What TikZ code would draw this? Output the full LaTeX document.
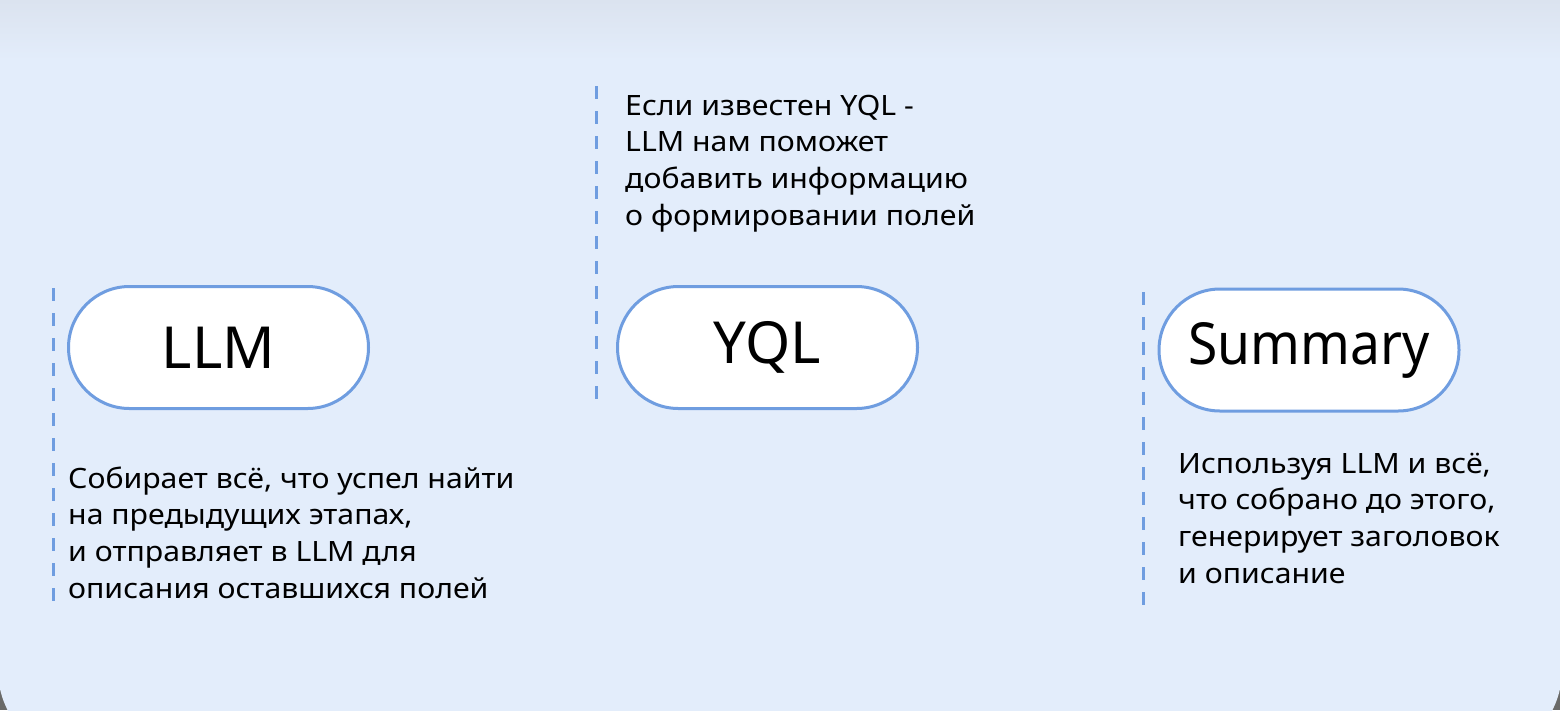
\documentclass[tikz,border=0pt]{standalone}
\usepackage{fontspec}
\setmainfont{Noto Sans}
\definecolor{bgblue}{HTML}{E3EDFB}
\definecolor{shadowc}{HTML}{DBE3EF}
\definecolor{outerc}{HTML}{6A6A68}
\definecolor{pillblue}{HTML}{6F9DE0}
\definecolor{dashblue}{HTML}{6F9DE0}
\begin{document}
\begin{tikzpicture}[x=1pt,y=-1pt,
  pill/.style={draw=pillblue, line width=3pt, fill=white, rounded corners=61pt,
    minimum width=300pt, minimum height=122pt, inner sep=0pt,
    font=\fontsize{58}{70}\selectfont},
  dashline/.style={draw=dashblue, line width=3pt, dash pattern=on 13pt off 12pt},
  txt/.style={anchor=base west, inner sep=0pt,
    font=\fontsize{28}{36.8}\selectfont\addfontfeatures{FakeStretch=1.08}}
]
\useasboundingbox (0,0) rectangle (1560,710);
\fill[outerc] (0,0) rectangle (1560,710);
\fill[bgblue, rounded corners=88pt] (-2,-120) rectangle (1562,758);
\shade[top color=shadowc, bottom color=bgblue] (0,0) rectangle (1560,60);

\coordinate (d1a) at (53,288); \coordinate (d1b) at (53,601);
\coordinate (d2a) at (596,86); \coordinate (d2b) at (596,399);
\coordinate (d3a) at (1143,292); \coordinate (d3b) at (1143,605);
\draw[dashline] (d1a) -- (d1b);
\draw[dashline] (d2a) -- (d2b);
\draw[dashline] (d3a) -- (d3b);

\node[pill] (llm) at (218.5,347.5) {LLM};
\node[pill] (yql) at (767.5,347.5) {YQL};
\node[pill] (sum) at (1309,350) {\scalebox{0.92}[1]{Summary}};

\node[txt] (tyql) at (625,115) {\begin{tabular}[t]{@{}l@{}}Если известен YQL -\\LLM нам поможет\\добавить информацию\\о формировании полей\end{tabular}};
\node[txt] (tllm) at (68,488) {\begin{tabular}[t]{@{}l@{}}Собирает всё, что успел найти\\на предыдущих этапах,\\и отправляет в LLM для\\описания оставшихся полей\end{tabular}};
\node[txt] (tsum) at (1178,473) {\begin{tabular}[t]{@{}l@{}}Используя LLM и всё,\\что собрано до этого,\\генерирует заголовок\\и описание\end{tabular}};
\end{tikzpicture}
\end{document}
